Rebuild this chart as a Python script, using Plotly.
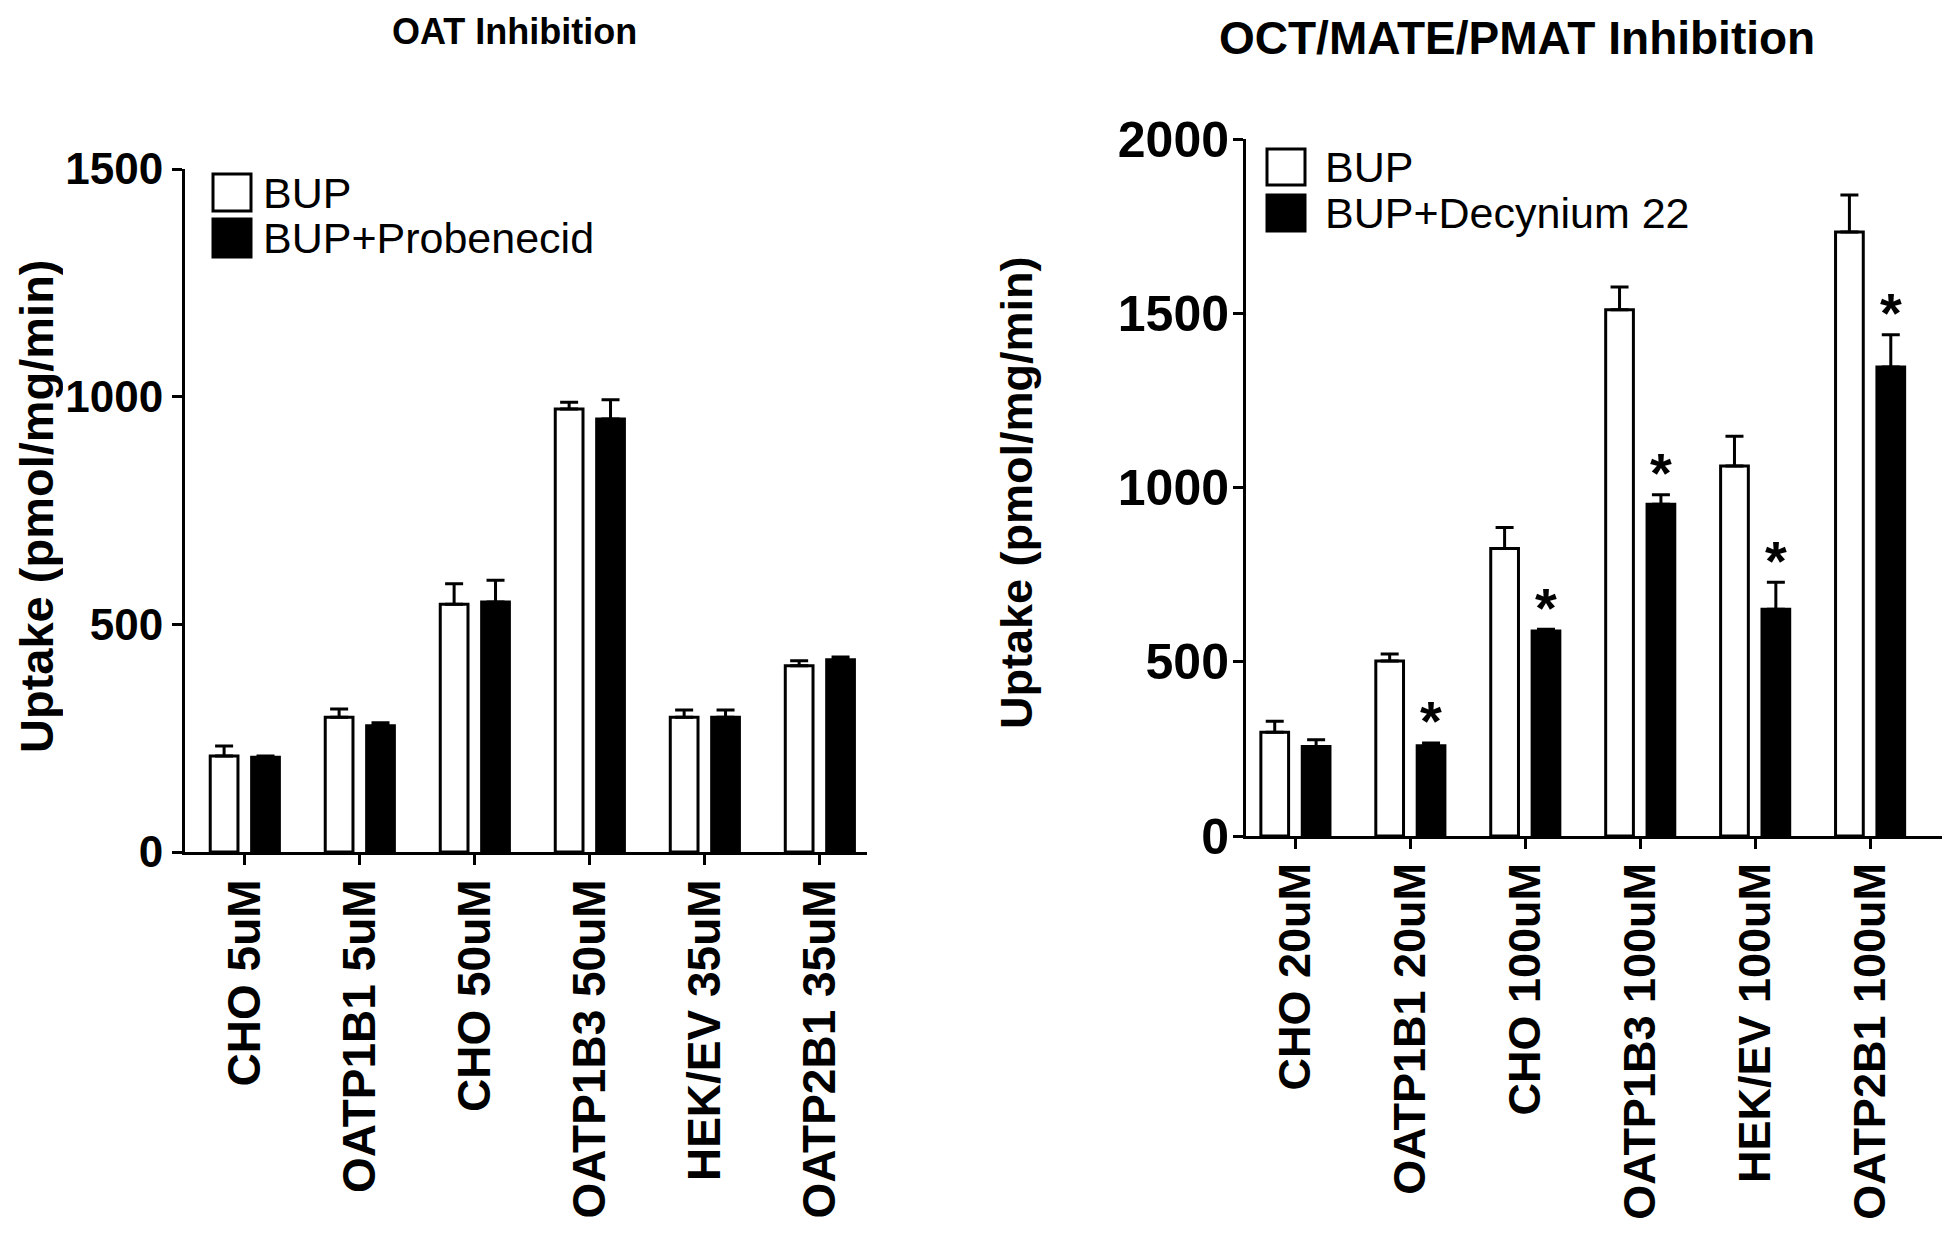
import plotly.graph_objects as go

# ---------------- data ----------------
oat_categories = ["CHO 5uM", "OATP1B1 5uM", "CHO 50uM", "OATP1B3 50uM", "HEK/EV 35uM", "OATP2B1 35uM"]
oat_bup = [211, 296, 544, 973, 296, 409]
oat_bup_err = [22, 18, 45, 15, 16, 11]
oat_prob = [208, 277, 549, 951, 296, 422]
oat_prob_err = [3, 7, 48, 42, 16, 6]

oct_categories = ["CHO 20uM", "OATP1B1 20uM", "CHO 100uM", "OATP1B3 100uM", "HEK/EV 100uM", "OATP2B1 100uM"]
oct_bup = [298, 502, 825, 1510, 1062, 1733]
oct_bup_err = [31, 20, 60, 65, 85, 106]
oct_dec = [257, 259, 588, 952, 651, 1346]
oct_dec_err = [19, 8, 5, 27, 77, 92]
oct_significant = [False, True, True, True, True, True]

left_ticks = [0, 500, 1000, 1500]
right_ticks = [0, 500, 1000, 1500, 2000]

# ---------------- style ----------------
W, H = 1950, 1238
FONT = "Liberation Sans, Arial, Helvetica, sans-serif"
BARGAP = 0.28
BARGROUPGAP = 0.33
LW = 3
DX, DY = -5, -9


def px(x):
    return (x + DX) / W


def py(y):
    return 1 - (y + DY) / H


def bar(x, y, err, fill, name, xa, ya):
    return go.Bar(
        x=x, y=y, name=name, xaxis=xa, yaxis=ya,
        marker=dict(color=fill, line=dict(color="black", width=LW)),
        error_y=dict(type="data", array=err, arrayminus=[0] * len(err), symmetric=False,
                     color="black", thickness=LW, width=9),
        showlegend=False,
    )


fig = go.Figure()
fig.add_trace(bar(oat_categories, oat_bup, oat_bup_err, "white", "BUP", "x", "y"))
fig.add_trace(bar(oat_categories, oat_prob, oat_prob_err, "black", "BUP+Probenecid", "x", "y"))
fig.add_trace(bar(oct_categories, oct_bup, oct_bup_err, "white", "BUP", "x2", "y2"))
fig.add_trace(bar(oct_categories, oct_dec, oct_dec_err, "black", "BUP+Decynium 22", "x2", "y2"))

xaxis_common = dict(
    type="category", showline=True, linecolor="black", linewidth=LW, mirror=False,
    ticks="outside", ticklen=10, tickwidth=LW, tickcolor="black", tickangle=-90,
    ticklabelstandoff=-4, showgrid=False, zeroline=False, automargin=False,
)
yaxis_common = dict(
    showline=True, linecolor="black", linewidth=LW, ticks="outside", ticklen=10,
    tickwidth=LW, tickcolor="black", showgrid=False, zeroline=False, automargin=False,
)

fig.update_layout(
    width=W, height=H, autosize=False,
    margin=dict(l=0, r=0, t=0, b=0, pad=0),
    paper_bgcolor="white", plot_bgcolor="white",
    barmode="group", bargap=BARGAP, bargroupgap=BARGROUPGAP,
    xaxis=dict(xaxis_common, domain=[px(182), px(864)], anchor="y", range=[-0.52, 5.41],
               tickfont=dict(family=FONT, size=46, color="black", weight="bold")),
    yaxis=dict(yaxis_common, domain=[py(853), py(170)], range=[0, 1500],
               tickvals=left_ticks, anchor="x", ticklabelstandoff=0,
               tickfont=dict(family=FONT, size=44, color="black", weight="bold")),
    xaxis2=dict(xaxis_common, domain=[px(1243), px(1951)], anchor="y2", range=[-0.43, 5.73],
                tickfont=dict(family=FONT, size=45, color="black", weight="bold")),
    yaxis2=dict(yaxis_common, domain=[py(837), py(140)], range=[0, 2000],
                tickvals=right_ticks, anchor="x2", ticklabelstandoff=-6,
                tickfont=dict(family=FONT, size=50, color="black", weight="bold")),
)

annotations = []
# titles
annotations.append(dict(text="<b>OAT Inhibition</b>", x=px(511), y=py(33), xref="paper", yref="paper",
                        xanchor="center", yanchor="middle", showarrow=False,
                        font=dict(family=FONT, size=36, color="black")))
annotations.append(dict(text="<b>OCT/MATE/PMAT Inhibition</b>", x=px(1514), y=py(39), xref="paper",
                        yref="paper", xanchor="center", yanchor="middle", showarrow=False,
                        font=dict(family=FONT, size=46, color="black")))
# y-axis titles
for xc, yc, fs in ((33, 507, 47), (1013, 494, 45)):
    annotations.append(dict(text="<b>Uptake (pmol/mg/min)</b>", x=px(xc), y=py(yc), xref="paper",
                            yref="paper", xanchor="center", yanchor="middle", textangle=-90,
                            height=54, borderpad=0,
                            showarrow=False, font=dict(family=FONT, size=fs, color="black")))

# significance stars above decynium bars
offset = (1 - BARGAP) / 4
for i, sig in enumerate(oct_significant):
    if sig:
        annotations.append(dict(text="<b>*</b>", x=i + offset, y=oct_dec[i] + oct_dec_err[i], xref="x2",
                                yref="y2", showarrow=False, xanchor="center", yanchor="middle",
                                yshift=22, font=dict(family=FONT, size=56, color="black")))

# legends (manual, large swatches)
shapes = []
legend_specs = [
    (210, 248, [(175, 212, "white", "BUP"), (220, 258, "black", "BUP+Probenecid")], 258),
    (1264, 1302, [(150, 186, "white", "BUP"), (196, 232, "black", "BUP+Decynium 22")], 1320),
]
for x0, x1, items, tx in legend_specs:
    for y0, y1, fill, label in items:
        shapes.append(dict(type="rect", xref="paper", yref="paper", x0=px(x0), x1=px(x1),
                           y0=py(y1), y1=py(y0), fillcolor=fill, line=dict(color="black", width=LW)))
        annotations.append(dict(text=label, x=px(tx), y=py((y0 + y1) / 2), xref="paper", yref="paper",
                                xanchor="left", yanchor="middle", showarrow=False,
                                font=dict(family=FONT, size=43, color="black")))

fig.update_layout(annotations=annotations, shapes=shapes)
fig.write_html("out.html")
